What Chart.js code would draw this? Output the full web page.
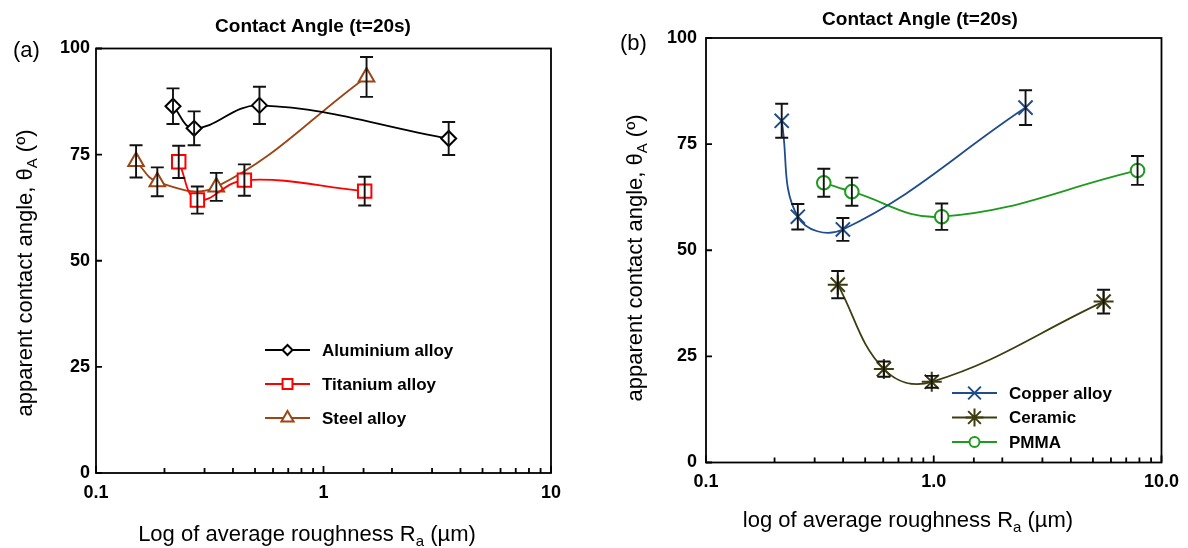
<!DOCTYPE html>
<html>
<head>
<meta charset="utf-8">
<script src="https://cdn.jsdelivr.net/npm/chart.js@4.4.1/dist/chart.umd.min.js"></script>
<style>
  html, body { margin: 0; padding: 0; background: #fff; }
  body { width: 1188px; height: 548px; position: relative; overflow: hidden; }
  .panel { position: absolute; top: 0; width: 594px; height: 548px; }
</style>
</head>
<body>
<div class="panel" style="left:0"><canvas id="ca" width="594" height="548"></canvas></div>
<div class="panel" style="left:594px"><canvas id="cb" width="594" height="548"></canvas></div>
<script>
// ---------- data ----------
// Panel (a)
const alX = [0.218, 0.270, 0.523, 3.55];
const alY = [86.4, 81.2, 86.6, 78.8];
const alErr = [4.2, 4.0, 4.4, 3.9];

const tiX = [0.231, 0.279, 0.449, 1.517];
const tiY = [73.3, 64.3, 69.0, 66.4];
const tiErr = [3.8, 3.2, 3.7, 3.4];

const stX = [0.150, 0.186, 0.338, 1.546];
const stY = [73.4, 68.6, 67.4, 93.3];
const stErr = [3.8, 3.4, 3.3, 4.7];

// Panel (b)
const cuX = [0.215, 0.253, 0.399, 2.53];
const cuY = [80.5, 57.9, 54.9, 83.6];
const cuErr = [4.0, 3.0, 2.7, 4.1];

const ceX = [0.379, 0.604, 0.980, 5.57];
const ceY = [41.9, 22.0, 19.0, 37.9];
const ceErr = [3.2, 1.8, 1.4, 2.8];

const pmX = [0.329, 0.437, 1.084, 7.85];
const pmY = [65.9, 63.8, 57.9, 68.8];
const pmErr = [3.3, 3.3, 3.1, 3.4];

// tick labels
const xTickValues = [0.1, 1, 10];
const xTickLabelsA = ['0.1', '1', '10'];
const xTickLabelsB = ['0.1', '1.0', '10.0'];
const yTickValues = [0, 25, 50, 75, 100];
const yTickLabels = ['0', '25', '50', '75', '100'];

const FONT = '"Liberation Sans", Arial, Helvetica, sans-serif';

function pts(xs, ys) { return xs.map((x, i) => ({ x: x, y: ys[i] })); }

function ds(label, xs, ys, err, color, style, radius, legendRadius) {
  return {
    label: label,
    data: pts(xs, ys),
    err: err,
    borderColor: color,
    borderWidth: 1.8,
    tension: 0.4,
    pointStyle: style,
    pointRadius: radius,
    pointHoverRadius: radius,
    pointBorderColor: color,
    pointBackgroundColor: '#ffffff',
    pointBorderWidth: 2,
    legendRadius: legendRadius,
    fill: false
  };
}

function drawRich(ctx, parts, x, y, size) {
  let total = 0;
  const widths = parts.map(p => {
    ctx.font = (p[1] ? Math.round(size * 0.68) : size) + 'px ' + FONT;
    const w = ctx.measureText(p[0]).width;
    total += w;
    return w;
  });
  let cx = x - total / 2;
  ctx.textBaseline = 'middle';
  ctx.textAlign = 'left';
  parts.forEach((p, i) => {
    ctx.font = (p[1] ? Math.round(size * 0.68) : size) + 'px ' + FONT;
    ctx.fillText(p[0], cx, p[1] ? y + size * 0.3 : y);
    cx += widths[i];
  });
}

const deco = {
  id: 'deco',
  beforeDatasetsDraw(chart, args, o) {
    const ctx = chart.ctx, a = chart.chartArea, xs = chart.scales.x, ys = chart.scales.y;
    ctx.save();
    ctx.strokeStyle = '#000';
    ctx.lineWidth = 1.8;
    ctx.strokeRect(a.left, a.top, a.right - a.left, a.bottom - a.top);
    ctx.beginPath();
    xs.ticks.forEach(t => {
      const px = xs.getPixelForValue(t.value);
      const major = xTickValues.some(v => Math.abs(v - t.value) < 1e-9);
      const len = major ? 7 : 5;
      ctx.moveTo(px, a.bottom);
      ctx.lineTo(px, a.bottom - len);
    });
    ys.ticks.forEach(t => {
      const py = ys.getPixelForValue(t.value);
      ctx.moveTo(a.left, py);
      ctx.lineTo(a.left + 6, py);
    });
    ctx.stroke();
    ctx.restore();
  },
  afterDatasetsDraw(chart) {
    const ctx = chart.ctx, xs = chart.scales.x, ys = chart.scales.y;
    ctx.save();
    ctx.strokeStyle = '#111';
    ctx.lineWidth = 1.9;
    chart.data.datasets.forEach(d => {
      d.data.forEach((p, i) => {
        const e = d.err[i];
        const px = xs.getPixelForValue(p.x);
        const y1 = ys.getPixelForValue(p.y + e);
        const y2 = ys.getPixelForValue(p.y - e);
        ctx.beginPath();
        ctx.moveTo(px, y1); ctx.lineTo(px, y2);
        ctx.moveTo(px - 6.5, y1); ctx.lineTo(px + 6.5, y1);
        ctx.moveTo(px - 6.5, y2); ctx.lineTo(px + 6.5, y2);
        ctx.stroke();
      });
    });
    ctx.restore();
  },
  afterDraw(chart, args, o) {
    const ctx = chart.ctx;
    ctx.save();
    ctx.fillStyle = '#000';
    ctx.font = 'bold 19px ' + FONT;
    ctx.textAlign = 'center';
    ctx.textBaseline = 'middle';
    ctx.fillText(o.title, o.titleX, o.titleY);
    ctx.font = '22px ' + FONT;
    ctx.textAlign = 'left';
    ctx.fillText(o.panel, o.panelX, o.panelY);
    drawRich(ctx, [[o.xTitle, false], ['a', true], [' (\u00b5m)', false]], o.xTitleX, o.xTitleY, 22);
    ctx.save();
    ctx.translate(o.yTitleX, o.yTitleY);
    ctx.rotate(-Math.PI / 2);
    drawRich(ctx, [['apparent contact angle, \u03b8', false], ['A', true], [' (\u00ba)', false]], 0, 0, 22);
    ctx.restore();
    chart.data.datasets.forEach((d, i) => {
      const y = o.legY + i * o.legDy;
      ctx.strokeStyle = d.borderColor;
      ctx.lineWidth = 2;
      ctx.beginPath();
      ctx.moveTo(o.legX, y); ctx.lineTo(o.legX + 45, y);
      ctx.stroke();
      ctx.fillStyle = '#fff';
      ctx.lineWidth = 2;
      Chart.helpers.drawPoint(ctx, { pointStyle: d.pointStyle, rotation: 0, radius: d.legendRadius, borderWidth: 2 }, o.legX + 22.5, y);
      ctx.fillStyle = '#000';
      ctx.font = 'bold 17px ' + FONT;
      ctx.textAlign = 'left';
      ctx.textBaseline = 'middle';
      ctx.fillText(d.label, o.legX + 57, y + 1);
    });
    ctx.restore();
  }
};

function makeChart(id, datasets, area, xLabels, labelPadX, labelPadY, deco) {
  const W = 594, H = 548;
  return new Chart(document.getElementById(id), {
    type: 'line',
    data: { datasets: datasets },
    plugins: [deco],
    options: {
      responsive: false,
      animation: false,
      events: [],
      layout: { padding: { left: 0, top: area.top, right: W - area.right, bottom: 0 } },
      plugins: { legend: { display: false }, tooltip: { enabled: false }, deco: deco.opts },
      scales: {
        x: {
          type: 'logarithmic', min: 0.1, max: 10,
          grid: { display: false, drawTicks: false },
          border: { display: false },
          afterFit: s => { s.height = H - area.bottom; },
          ticks: {
            autoSkip: false, maxRotation: 0, padding: labelPadX,
            color: '#000', font: { family: FONT, size: 18, weight: 'bold' },
            callback: function (v) {
              const k = xTickValues.findIndex(t => Math.abs(t - v) < 1e-9);
              return k >= 0 ? xLabels[k] : '';
            }
          }
        },
        y: {
          min: 0, max: 100,
          grid: { display: false, drawTicks: false },
          border: { display: false },
          afterFit: s => { s.width = area.left; },
          ticks: {
            stepSize: 25, padding: labelPadY,
            color: '#000', font: { family: FONT, size: 18, weight: 'bold' },
            callback: function (v) {
              const k = yTickValues.indexOf(v);
              return k >= 0 ? yTickLabels[k] : '';
            }
          }
        }
      }
    }
  });
}

const decoA = Object.assign({}, deco, { id: 'deco' });
decoA.opts = {
  title: 'Contact Angle (t=20s)', titleX: 313, titleY: 27,
  panel: '(a)', panelX: 13, panelY: 51,
  xTitle: 'Log of average roughness R', xTitleX: 307, xTitleY: 535,
  yTitleX: 26, yTitleY: 273,
  legX: 265, legY: 350, legDy: 34
};
makeChart('ca', [
  ds('Aluminium alloy', alX, alY, alErr, '#000000', 'rectRot', 7.5, 5),
  ds('Titanium alloy', tiX, tiY, tiErr, '#ff0000', 'rect', 9.5, 7),
  ds('Steel alloy', stX, stY, stErr, '#9c4515', 'triangle', 9, 7)
], { left: 96, top: 48.5, right: 551, bottom: 473 }, xTickLabelsA, 9, 6, decoA);

const decoB = Object.assign({}, deco, { id: 'deco' });
decoB.opts = {
  title: 'Contact Angle (t=20s)', titleX: 326, titleY: 20,
  panel: '(b)', panelX: 26, panelY: 44,
  xTitle: 'log of average roughness R', xTitleX: 314, xTitleY: 521,
  yTitleX: 42, yTitleY: 258,
  legX: 358, legY: 393, legDy: 24.5
};
makeChart('cb', [
  ds('Copper alloy', cuX, cuY, cuErr, '#1f4d8c', 'crossRot', 10, 9),
  ds('Ceramic', ceX, ceY, ceErr, '#3d3d12', 'star', 10, 9),
  ds('PMMA', pmX, pmY, pmErr, '#1e9a1e', 'circle', 6.8, 5)
], { left: 112, top: 38, right: 569, bottom: 462.5 }, xTickLabelsB, 9, 9, decoB);
</script>
</body>
</html>
